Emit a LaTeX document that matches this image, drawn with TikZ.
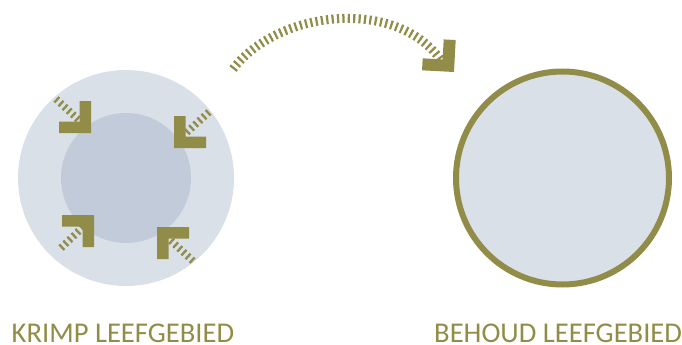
\documentclass[tikz,border=0pt]{standalone}
\usepackage{fontspec}
\setmainfont{Carlito}
\definecolor{olivex}{RGB}{145,140,72}
\definecolor{outerfill}{RGB}{218,224,232}
\definecolor{innerfill}{RGB}{194,203,217}
\begin{document}
\begin{tikzpicture}[x=1pt,y=-1pt,
  chevfill/.style={fill=olivex},
  hatch/.style={draw=olivex, line width=7.5pt, dash pattern=on 2.3pt off 3.3pt},
  archatch/.style={draw=olivex, line width=9pt, dash pattern=on 2.2pt off 3.2pt},
  label/.style={text=olivex, font=\fontsize{28.6}{30}\selectfont, inner sep=0pt, text depth=0pt, anchor=base west}]
\useasboundingbox (0,0) rectangle (682,345);
% left circles
\fill[outerfill] (126,178) circle (108);
\fill[innerfill] (126,178) circle (65);
% right circle
\draw[olivex, line width=6pt, fill=outerfill] (562.5,178) circle (106.5);
% hatches (left)
\draw[hatch] (56,99) -- (81,122);
\draw[hatch] (209,112) -- (185,134);
\draw[hatch] (61,248) -- (84,226);
\draw[hatch] (193,261) -- (168,238);
% chevrons: corner at origin, arms towards -x and -y (image coords)
\newcommand{\chevshape}{(0,0) -- (-32,0) -- (-32,-11.5) -- (-11.5,-11.5) -- (-11.5,-32) -- (0,-32) -- cycle}
\begin{scope}[shift={(91,133)}] \fill[chevfill] \chevshape; \end{scope}
\begin{scope}[shift={(174,148)}, xscale=-1] \fill[chevfill] \chevshape; \end{scope}
\begin{scope}[shift={(94,215)}, yscale=-1] \fill[chevfill] \chevshape; \end{scope}
\begin{scope}[shift={(157,227)}, xscale=-1, yscale=-1] \fill[chevfill] \chevshape; \end{scope}
% top arc arrow
\coordinate (arcA) at (233,69);
\coordinate (arcB) at (442,62);
\draw[archatch] (arcA) .. controls (280,8) and (400,-2) .. (arcB);
\begin{scope}[shift={(454,72)}, rotate=-3] \fill[chevfill] (0,0) -- (-32,0) -- (-32,-12) -- (-12,-12) -- (-12,-32) -- (0,-32) -- cycle; \end{scope}
% labels
\node[label] (krimp) at (11.5,342.5) {KRIMP LEEFGEBIED};
\node[label] (behoud) at (434,342.5) {BEHOUD LEEFGEBIED};
\end{tikzpicture}
\end{document}
